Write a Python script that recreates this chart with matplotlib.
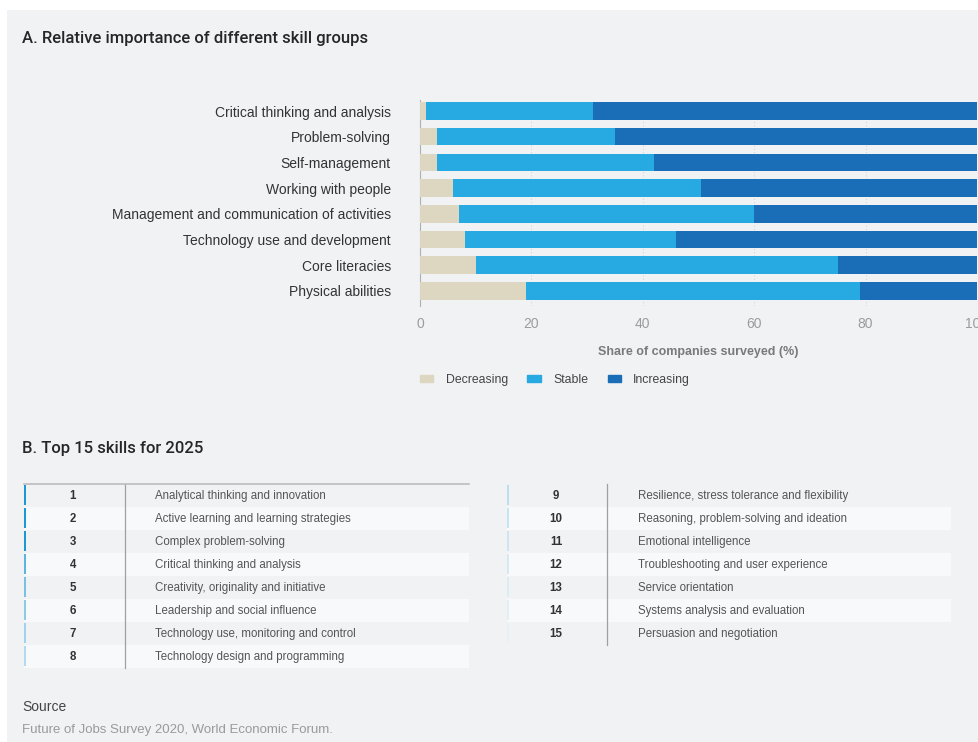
import matplotlib
matplotlib.use("Agg")
import matplotlib.pyplot as plt
from matplotlib.patches import Rectangle
from matplotlib.lines import Line2D

plt.rcParams['font.family'] = ['Liberation Sans', 'DejaVu Sans']

# ---------------- data ----------------
skill_groups = ["Critical thinking and analysis", "Problem-solving", "Self-management",
                "Working with people", "Management and communication of activities",
                "Technology use and development", "Core literacies", "Physical abilities"]
decreasing = [1, 3, 3, 6, 7, 8, 10, 19]
stable = [30, 32, 39, 44.5, 53, 38, 65, 60]
increasing = [69, 65, 58, 49.5, 40, 54, 25, 21]
series_names = ["Decreasing", "Stable", "Increasing"]
series_colors = ["#ddd6c1", "#27a9e1", "#1a6eb8"]
x_ticks = [0, 20, 40, 60, 80, 100]

ranks = list(range(1, 16))
top_skills = ["Analytical thinking and innovation", "Active learning and learning strategies",
              "Complex problem-solving", "Critical thinking and analysis",
              "Creativity, originality and initiative", "Leadership and social influence",
              "Technology use, monitoring and control", "Technology design and programming",
              "Resilience, stress tolerance and flexibility", "Reasoning, problem-solving and ideation",
              "Emotional intelligence", "Troubleshooting and user experience",
              "Service orientation", "Systems analysis and evaluation", "Persuasion and negotiation"]
accent_colors = ["#1b98d5", "#1b98d5", "#1b98d5", "#5cb4df", "#78c0e4", "#8ecae8", "#a2d3ec",
                 "#b2daee", "#bcdff0", "#c5e3f1", "#cde6f2", "#d4e9f3", "#dbecf3", "#e1eef4", "#e7f0f5"]

W, H = 979, 742
BG = "#f1f2f4"
fig = plt.figure(figsize=(W / 100, H / 100), dpi=100, facecolor="white")

# background panel / overlay axes in pixel coords
bg = fig.add_axes([0, 0, 1, 1], zorder=0)
bg.set_xlim(0, W)
bg.set_ylim(H, 0)
bg.axis("off")
bg.add_patch(Rectangle((7, 10), W - 7, H - 10, color=BG, lw=0))

# titles and source
title_font = dict(family=["Roboto", "Liberation Sans"], fontweight="medium")
bg.text(22, 39, "A. Relative importance of different skill groups", fontsize=12,
        color="#262626", va="center", ha="left", **title_font)
bg.text(22, 448, "B. Top 15 skills for 2025", fontsize=12, color="#262626", va="center",
        ha="left", **title_font)
bg.text(22, 707, "Source", fontsize=10, color="#444444", va="center", ha="left")
bg.text(22, 730, "Future of Jobs Survey 2020, World Economic Forum.", fontsize=9.5,
        color="#9a9a9a", va="center", ha="left")

# ---------------- Panel A: stacked bars ----------------
x0, x1 = 420, 977
y_top, y_bot = 100, 306
ax = fig.add_axes([x0 / W, 1 - y_bot / H, (x1 - x0) / W, (y_bot - y_top) / H], zorder=2)
ax.set_facecolor("none")
ypos = list(range(len(skill_groups)))
left = [0] * len(skill_groups)
for vals, name, col in zip([decreasing, stable, increasing], series_names, series_colors):
    ax.barh(ypos, vals, left=left, height=0.68, color=col, label=name, zorder=3)
    left = [l + v for l, v in zip(left, vals)]
ax.set_ylim(7.59, -0.43)
ax.set_xlim(0, 100)
ax.set_xticks(x_ticks)
ax.set_xticklabels([str(t) for t in x_ticks], fontsize=10, color="#9c9c9c")
ax.set_yticks(ypos)
ax.set_yticklabels(skill_groups, fontsize=10, color="#333333")
ax.tick_params(axis="y", length=0, pad=21)
ax.tick_params(axis="x", length=0, pad=8)
ax.grid(axis="x", linestyle=(0, (1, 2)), color="#d6d6d6", lw=0.8, zorder=0)
for s in ["top", "right", "bottom"]:
    ax.spines[s].set_visible(False)
ax.spines["left"].set_color("#b0b0b0")
ax.spines["left"].set_linewidth(0.8)
ax.set_xlabel("Share of companies surveyed (%)", fontsize=9, fontweight="bold",
              color="#7a7a7a", labelpad=11)

handles = [Rectangle((0, 0), 1, 1, color=c) for c in series_colors]
fig.legend(handles, series_names, loc="center left", bbox_to_anchor=(409 / W, 1 - 380 / H),
           ncol=3, frameon=False, fontsize=8.8, handlelength=1.1, handleheight=0.55,
           handletextpad=1.0, columnspacing=1.6, labelcolor="#444444")

# ---------------- Panel B: table ----------------
row_h = 23.0
first_row_y = 495
tables = [
    dict(idx=range(0, 8), xl=24, xr=469, xnum=73, xsep=125, xtxt=155, topline=True),
    dict(idx=range(8, 15), xl=507, xr=951, xnum=556, xsep=607, xtxt=638, topline=False),
]
for t in tables:
    n = len(t["idx"])
    for j, k in enumerate(t["idx"]):
        yc = first_row_y + j * row_h
        if j % 2 == 1:
            bg.add_patch(Rectangle((t["xl"], yc - row_h / 2), t["xr"] - t["xl"], row_h,
                                   color="#f8f9fa", lw=0, zorder=1))
        bg.add_patch(Rectangle((t["xl"], yc - row_h / 2 + 1.5), 2.5, row_h - 3,
                               color=accent_colors[k], lw=0, zorder=2))
        bg.text(t["xnum"], yc + 4.2, str(ranks[k]), fontsize=8.3, color="#333333",
                fontweight="bold", ha="center", va="baseline", zorder=3)
        bg.text(t["xtxt"], yc + 4.2, top_skills[k], fontsize=8.3, color="#555555",
                ha="left", va="baseline", zorder=3)
    ytop = first_row_y - row_h / 2
    ybot = first_row_y + (n - 0.5) * row_h
    bg.add_line(Line2D([t["xsep"], t["xsep"]], [ytop, ybot], color="#a0a0a0", lw=0.9, zorder=3))
    if t["topline"]:
        bg.add_line(Line2D([t["xl"], t["xr"]], [ytop, ytop], color="#bdbdbd", lw=1.2, zorder=3))

fig.savefig("out.png", dpi=100, facecolor=fig.get_facecolor())
